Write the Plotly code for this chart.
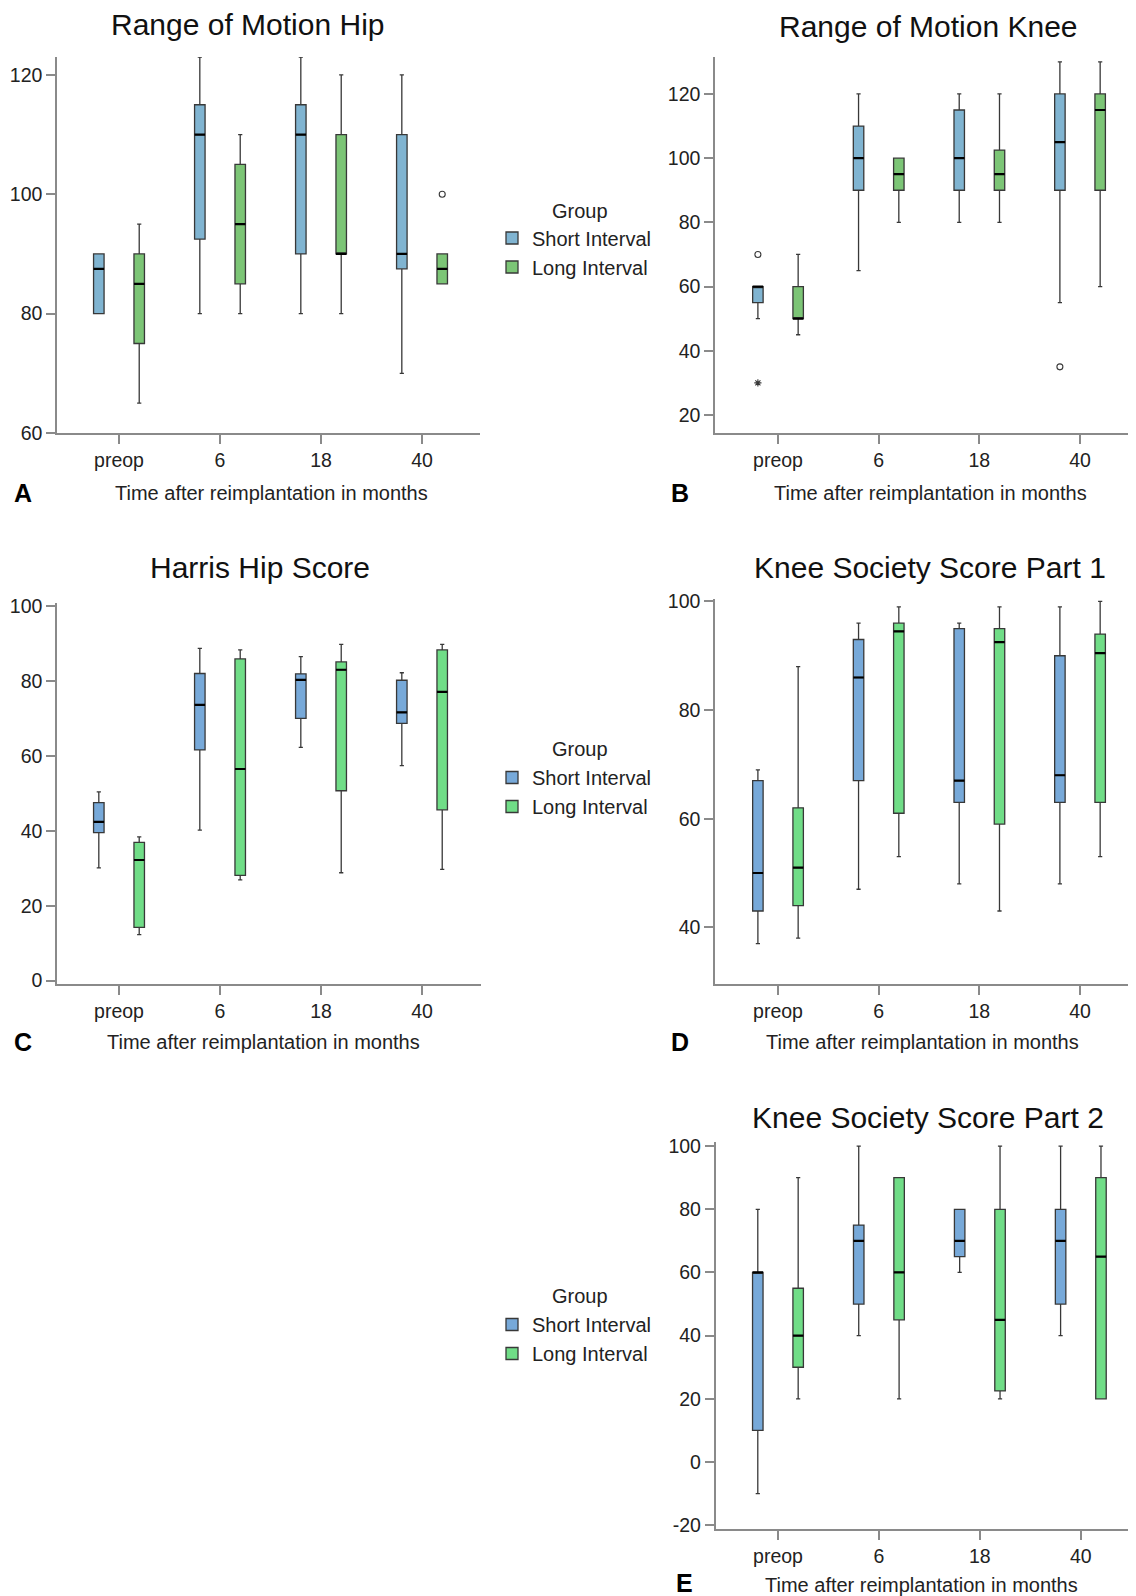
import plotly.graph_objects as go

# the page body adds an 8 px margin, so the figure is 8 px smaller than the window
# and all reference pixel positions are shifted by that margin
OFF = 8
W, H = 1136 - OFF, 1596 - OFF
FONT = "Liberation Sans, Arial, sans-serif"

categories = ["preop", "6", "18", "40"]
group_names = ["Short Interval", "Long Interval"]
legend_title = "Group"

# ---------------- Panel A: Range of Motion Hip ----------------
a_short_low = [80, 80, 80, 70]
a_short_q1 = [80, 92.5, 90, 87.5]
a_short_med = [87.5, 110, 110, 90]
a_short_q3 = [90, 115, 115, 110]
a_short_high = [90, 123, 123, 120]
a_long_low = [65, 80, 80, 85]
a_long_q1 = [75, 85, 90, 85]
a_long_med = [85, 95, 90, 87.5]
a_long_q3 = [90, 105, 110, 90]
a_long_high = [95, 110, 120, 90]
a_long_out_cat = ["40"]
a_long_out_val = [100]

# ---------------- Panel B: Range of Motion Knee ----------------
b_short_low = [50, 65, 80, 55]
b_short_q1 = [55, 90, 90, 90]
b_short_med = [60, 100, 100, 105]
b_short_q3 = [60, 110, 115, 120]
b_short_high = [60, 120, 120, 130]
b_short_out_cat = ["preop", "40"]
b_short_out_val = [70, 35]
b_short_ext_cat = ["preop"]          # extreme value (asterisk)
b_short_ext_val = [30]
b_long_low = [45, 80, 80, 60]
b_long_q1 = [50, 90, 90, 90]
b_long_med = [50, 95, 95, 115]
b_long_q3 = [60, 100, 102.5, 120]
b_long_high = [70, 100, 120, 130]

# ---------------- Panel C: Harris Hip Score ----------------
c_short_low = [30.1, 40.2, 62.3, 57.4]
c_short_q1 = [39.5, 61.6, 70.0, 68.7]
c_short_med = [42.4, 73.6, 80.3, 71.6]
c_short_q3 = [47.5, 82.0, 81.9, 80.2]
c_short_high = [50.4, 88.7, 86.5, 82.2]
c_long_low = [12.3, 26.9, 28.8, 29.7]
c_long_q1 = [14.2, 28.1, 50.7, 45.6]
c_long_med = [32.2, 56.5, 83.0, 77.1]
c_long_q3 = [36.9, 85.9, 85.1, 88.3]
c_long_high = [38.4, 88.3, 89.8, 89.8]

# ---------------- Panel D: Knee Society Score Part 1 ----------------
d_short_low = [37, 47, 48, 48]
d_short_q1 = [43, 67, 63, 63]
d_short_med = [50, 86, 67, 68]
d_short_q3 = [67, 93, 95, 90]
d_short_high = [69, 96, 96, 99]
d_long_low = [38, 53, 43, 53]
d_long_q1 = [44, 61, 59, 63]
d_long_med = [51, 94.5, 92.5, 90.5]
d_long_q3 = [62, 96, 95, 94]
d_long_high = [88, 99, 99, 100]

# ---------------- Panel E: Knee Society Score Part 2 ----------------
e_short_low = [-10, 40, 60, 40]
e_short_q1 = [10, 50, 65, 50]
e_short_med = [60, 70, 70, 70]
e_short_q3 = [60, 75, 80, 80]
e_short_high = [80, 100, 80, 100]
e_long_low = [20, 20, 20, 20]
e_long_q1 = [30, 45, 22.5, 20]
e_long_med = [40, 60, 45, 65]
e_long_q3 = [55, 90, 80, 90]
e_long_high = [90, 90, 100, 100]

titles = ["Range of Motion Hip", "Range of Motion Knee", "Harris Hip Score",
          "Knee Society Score Part 1", "Knee Society Score Part 2"]
letters = ["A", "B", "C", "D", "E"]
xaxis_title = "Time after reimplantation in months"
yticks = [[60, 80, 100, 120], [20, 40, 60, 80, 100, 120], [0, 20, 40, 60, 80, 100],
          [40, 60, 80, 100], [-20, 0, 20, 40, 60, 80, 100]]

# colours
BLUE_1, GREEN_1 = "#80B4D1", "#7CC576"
BLUE_2, GREEN_2 = "#77A9D9", "#70DD87"
EDGE = "#383838"
AXIS = "#8a8a8a"
CLEAR = "rgba(0,0,0,0)"


def px_x(x):
    return (x - OFF) / W


def px_y(y):
    return 1 - (y - OFF) / H


fig = go.Figure()


def add_box(ax, name, color, low, q1, med, q3, high, og, legend, showlegend):
    fig.add_trace(go.Box(
        x=categories, q1=q1, median=med, q3=q3, lowerfence=low, upperfence=high,
        name=name, fillcolor=color, line=dict(color=EDGE, width=1.3),
        whiskerwidth=0.4, offsetgroup=og, legendgroup=legend + og,
        legend=legend, showlegend=showlegend, boxpoints=False,
        xaxis="x" + ax, yaxis="y" + ax, hoverinfo="skip"))
    # bold black median line in the same slot
    fig.add_trace(go.Box(
        x=categories, q1=med, median=med, q3=med, lowerfence=med, upperfence=med,
        name=name, fillcolor=CLEAR, line=dict(color="#000000", width=2.2),
        whiskerwidth=0, offsetgroup=og, showlegend=False, boxpoints=False,
        xaxis="x" + ax, yaxis="y" + ax, hoverinfo="skip"))


def add_points(ax, cats, vals, og, symbol, size):
    fig.add_trace(go.Box(
        x=cats, q1=vals, median=vals, q3=vals, lowerfence=vals, upperfence=vals,
        y=[[v] for v in vals], boxpoints="all", pointpos=0, jitter=0,
        fillcolor=CLEAR, line=dict(color=CLEAR, width=0), whiskerwidth=0,
        offsetgroup=og, showlegend=False,
        marker=dict(symbol=symbol, size=size, color=EDGE, line=dict(width=1.1, color=EDGE)),
        xaxis="x" + ax, yaxis="y" + ax, hoverinfo="skip"))


# A
add_box("", group_names[0], BLUE_1, a_short_low, a_short_q1, a_short_med, a_short_q3,
        a_short_high, "S", "legend", True)
add_box("", group_names[1], GREEN_1, a_long_low, a_long_q1, a_long_med, a_long_q3,
        a_long_high, "L", "legend", True)
add_points("", a_long_out_cat, a_long_out_val, "L", "circle-open", 6)
# B
add_box("2", group_names[0], BLUE_1, b_short_low, b_short_q1, b_short_med, b_short_q3,
        b_short_high, "S", "legend", False)
add_box("2", group_names[1], GREEN_1, b_long_low, b_long_q1, b_long_med, b_long_q3,
        b_long_high, "L", "legend", False)
add_points("2", b_short_out_cat, b_short_out_val, "S", "circle-open", 6)
add_points("2", b_short_ext_cat, b_short_ext_val, "S", "asterisk-open", 6)
# C
add_box("3", group_names[0], BLUE_2, c_short_low, c_short_q1, c_short_med, c_short_q3,
        c_short_high, "S", "legend2", True)
add_box("3", group_names[1], GREEN_2, c_long_low, c_long_q1, c_long_med, c_long_q3,
        c_long_high, "L", "legend2", True)
# D
add_box("4", group_names[0], BLUE_2, d_short_low, d_short_q1, d_short_med, d_short_q3,
        d_short_high, "S", "legend2", False)
add_box("4", group_names[1], GREEN_2, d_long_low, d_long_q1, d_long_med, d_long_q3,
        d_long_high, "L", "legend2", False)
# E
add_box("5", group_names[0], BLUE_2, e_short_low, e_short_q1, e_short_med, e_short_q3,
        e_short_high, "S", "legend3", True)
add_box("5", group_names[1], GREEN_2, e_long_low, e_long_q1, e_long_med, e_long_q3,
        e_long_high, "L", "legend3", True)

# panel geometry (reference pixels): x-left, x-right, y-top, y-bottom, x-range, y-range
panels = [
    (57, 480, 57, 433, [-0.614, 3.574], [60, 123.0]),
    (715, 1136, 57, 433, [-0.626, 3.556], [14.4, 131.5]),
    (57, 481, 602.7, 984, [-0.614, 3.584], [-0.9, 100.9]),
    (715, 1136, 599.3, 984.3, [-0.626, 3.556], [29.5, 100.4]),
    (715.6, 1136, 1142.3, 1529, [-0.618, 3.547], [-21.2, 101.2]),
]

tickfont = dict(family=FONT, size=19.5, color="#222222")
layout = dict(
    width=W, height=H, margin=dict(l=0, r=0, t=0, b=0, pad=0, autoexpand=False),
    paper_bgcolor="white", plot_bgcolor="white",
    boxmode="group", boxgap=0.2, boxgroupgap=0.74,
    font=dict(family=FONT, color="#222222"),
)
for i, (xl, xr, yt, yb, xr_, yr_) in enumerate(panels):
    sfx = "" if i == 0 else str(i + 1)
    layout["xaxis" + sfx] = dict(
        domain=[px_x(xl), min(1.0, px_x(xr))], anchor="y" + sfx, type="category",
        categoryorder="array", categoryarray=categories, range=xr_,
        showline=True, linecolor=AXIS, linewidth=1.5, ticks="outside",
        ticklen=9, tickwidth=1.5, tickcolor=AXIS, showgrid=False, zeroline=False,
        tickfont=tickfont, automargin=False, fixedrange=True)
    layout["yaxis" + sfx] = dict(
        domain=[px_y(yb), px_y(yt)], anchor="x" + sfx, range=yr_,
        tickvals=yticks[i], ticktext=[str(v) for v in yticks[i]],
        showline=True, linecolor=AXIS, linewidth=1.5,
        ticks="outside", ticklen=9, tickwidth=1.5, tickcolor=AXIS,
        showgrid=False, zeroline=False, tickfont=tickfont, automargin=False,
        fixedrange=True)

legend_common = dict(
    xanchor="left", yanchor="top", bgcolor=CLEAR,
    font=dict(family=FONT, size=20, color="#222222"),
    traceorder="normal", itemclick=False, itemdoubleclick=False,
)
legend_pos = [(492, 218.5), (492, 758), (492, 1305)]
group_pos = [(580, 211), (580, 748.6), (580, 1295.6)]
for key, (x, y) in zip(["legend", "legend2", "legend3"], legend_pos):
    layout[key] = dict(legend_common, x=px_x(x), y=px_y(y))

annotations = []
for (x, y) in group_pos:
    annotations.append(dict(text=legend_title, x=px_x(x), y=px_y(y), xref="paper",
                            yref="paper", showarrow=False, xanchor="center",
                            yanchor="middle",
                            font=dict(family=FONT, size=20, color="#222222")))
title_pos = [(248, 25), (928, 27), (260, 567), (930, 567), (928, 1117)]
for t, (x, y) in zip(titles, title_pos):
    annotations.append(dict(text=t, x=px_x(x), y=px_y(y), xref="paper", yref="paper",
                            showarrow=False, xanchor="center", yanchor="middle",
                            font=dict(family=FONT, size=30, color="#111111")))
axt_pos = [(271, 493), (930, 493), (263, 1042), (922, 1042), (921, 1585)]
for x, y in axt_pos:
    annotations.append(dict(text=xaxis_title, x=px_x(x), y=px_y(y), xref="paper",
                            yref="paper", showarrow=False, xanchor="center",
                            yanchor="middle",
                            font=dict(family=FONT, size=20, color="#222222")))
letter_pos = [(23, 493), (680, 493), (23, 1042), (680, 1042), (684, 1583)]
for l, (x, y) in zip(letters, letter_pos):
    annotations.append(dict(text="<b>%s</b>" % l, x=px_x(x), y=px_y(y), xref="paper",
                            yref="paper", showarrow=False, xanchor="center",
                            yanchor="middle",
                            font=dict(family=FONT, size=25, color="#000000")))
layout["annotations"] = annotations

fig.update_layout(**layout)
fig.write_html("out.html")
